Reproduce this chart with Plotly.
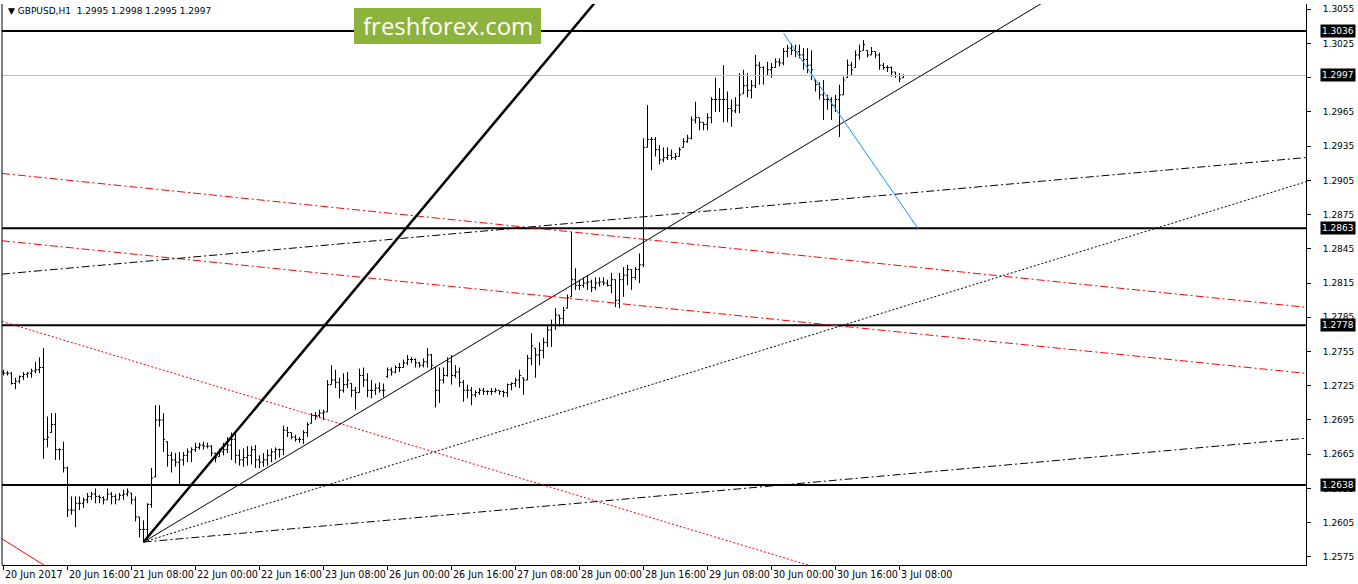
import plotly.graph_objects as go

# ---------------- data (GBPUSD H1, bar index 0 = 20 Jun 2017 00:00) ----------------
opens = [1.2737,1.2736,1.2736,1.2727,1.2729,1.2733,1.2735,1.2736,1.2738,1.2739,
         1.2741,1.2678,1.2684,1.2691,1.2669,1.2669,1.2653,1.2616,1.2616,1.2622,
         1.2622,1.2625,1.2628,1.2630,1.2628,1.2627,1.2625,1.2630,1.2628,1.2625,
         1.2629,1.2630,1.2631,1.2625,1.2610,1.2599,1.2599,1.2621,1.2645,1.2695,
         1.2695,1.2676,1.2664,1.2660,1.2658,1.2660,1.2664,1.2667,1.2669,1.2671,
         1.2673,1.2672,1.2672,1.2666,1.2663,1.2667,1.2669,1.2673,1.2678,1.2664,
         1.2660,1.2662,1.2664,1.2669,1.2660,1.2658,1.2660,1.2664,1.2667,1.2669,
         1.2669,1.2686,1.2684,1.2680,1.2678,1.2678,1.2684,1.2692,1.2699,1.2699,
         1.2701,1.2702,1.2726,1.2730,1.2728,1.2721,1.2726,1.2727,1.2721,1.2719,
         1.2734,1.2730,1.2721,1.2721,1.2723,1.2721,1.2733,1.2739,1.2737,1.2741,
         1.2741,1.2745,1.2748,1.2748,1.2745,1.2743,1.2746,1.2752,1.2741,1.2721,
         1.2730,1.2734,1.2746,1.2734,1.2737,1.2728,1.2721,1.2721,1.2717,1.2719,
         1.2721,1.2720,1.2720,1.2720,1.2721,1.2720,1.2719,1.2726,1.2727,1.2730,
         1.2732,1.2730,1.2749,1.2758,1.2752,1.2756,1.2763,1.2774,1.2778,1.2787,
         1.2784,1.2793,1.2803,1.2818,1.2813,1.2813,1.2815,1.2816,1.2811,1.2815,
         1.2816,1.2815,1.2813,1.2818,1.2800,1.2818,1.2822,1.2827,1.2820,1.2827,
         1.2831,1.2934,1.2941,1.2941,1.2932,1.2923,1.2925,1.2927,1.2925,1.2926,
         1.2934,1.2939,1.2942,1.2958,1.2960,1.2956,1.2954,1.2960,1.2976,1.2976,
         1.2976,1.2976,1.2968,1.2966,1.2971,1.2981,1.2988,1.2984,1.2988,1.3006,
         1.3004,1.2997,1.3002,1.3004,1.3009,1.3008,1.3018,1.3021,1.3019,1.3018,
         1.3015,1.3011,1.3006,1.2993,1.2989,1.2980,1.2976,1.2976,1.2971,1.2976,
         1.2980,1.2995,1.3006,1.3004,1.3015,1.3019,1.3019,1.3015,1.3018,1.3015,
         1.3006,1.3004,1.3004,1.3000,1.2997,1.2995]
highs = [1.2739,1.2738,1.2737,1.2732,1.2734,1.2737,1.2737,1.2740,1.2746,1.2750,
         1.2758,1.2698,1.2701,1.2701,1.2670,1.2676,1.2654,1.2628,1.2628,1.2628,
         1.2627,1.2631,1.2632,1.2635,1.2629,1.2628,1.2635,1.2632,1.2630,1.2631,
         1.2634,1.2635,1.2631,1.2628,1.2610,1.2607,1.2622,1.2653,1.2708,1.2708,
         1.2701,1.2676,1.2667,1.2666,1.2667,1.2667,1.2670,1.2671,1.2675,1.2675,
         1.2676,1.2675,1.2673,1.2666,1.2670,1.2675,1.2680,1.2684,1.2684,1.2669,
         1.2670,1.2672,1.2672,1.2673,1.2664,1.2666,1.2669,1.2670,1.2671,1.2670,
         1.2690,1.2689,1.2684,1.2682,1.2680,1.2686,1.2693,1.2701,1.2702,1.2704,
         1.2704,1.2730,1.2743,1.2739,1.2732,1.2736,1.2737,1.2727,1.2724,1.2740,
         1.2741,1.2736,1.2730,1.2727,1.2728,1.2727,1.2741,1.2741,1.2743,1.2745,
         1.2748,1.2752,1.2750,1.2749,1.2746,1.2749,1.2758,1.2753,1.2741,1.2741,
         1.2741,1.2750,1.2752,1.2743,1.2741,1.2730,1.2726,1.2724,1.2721,1.2723,
         1.2723,1.2721,1.2723,1.2723,1.2721,1.2721,1.2727,1.2728,1.2732,1.2739,
         1.2732,1.2752,1.2771,1.2758,1.2763,1.2767,1.2778,1.2783,1.2793,1.2787,
         1.2794,1.2805,1.2860,1.2828,1.2818,1.2820,1.2822,1.2818,1.2820,1.2820,
         1.2820,1.2818,1.2824,1.2818,1.2824,1.2829,1.2831,1.2827,1.2829,1.2841,
         1.2942,1.2971,1.2943,1.2943,1.2936,1.2934,1.2934,1.2932,1.2929,1.2934,
         1.2942,1.2945,1.2961,1.2974,1.2960,1.2956,1.2964,1.2978,1.2995,1.2986,
         1.3006,1.2983,1.2976,1.2978,1.2999,1.3002,1.2999,1.2993,1.3015,1.3009,
         1.3005,1.3009,1.3008,1.3012,1.3012,1.3021,1.3024,1.3025,1.3024,1.3024,
         1.3021,1.3021,1.3019,1.2993,1.2991,1.2993,1.2980,1.2978,1.2980,1.2989,
         1.2996,1.3011,1.3009,1.3019,1.3024,1.3028,1.3019,1.3022,1.3018,1.3017,
         1.3008,1.3006,1.3005,1.3000,1.2999,1.2998]
lows = [1.2734,1.2734,1.2726,1.2722,1.2727,1.2730,1.2732,1.2732,1.2736,1.2736,
        1.2661,1.2671,1.2684,1.2660,1.2660,1.2649,1.2610,1.2612,1.2601,1.2616,
        1.2618,1.2622,1.2625,1.2622,1.2622,1.2621,1.2625,1.2621,1.2621,1.2625,
        1.2625,1.2628,1.2621,1.2606,1.2592,1.2588,1.2592,1.2618,1.2645,1.2689,
        1.2667,1.2654,1.2649,1.2654,1.2638,1.2655,1.2658,1.2658,1.2667,1.2669,
        1.2669,1.2670,1.2663,1.2658,1.2663,1.2664,1.2666,1.2660,1.2657,1.2655,
        1.2654,1.2655,1.2656,1.2653,1.2653,1.2654,1.2655,1.2658,1.2660,1.2662,
        1.2664,1.2680,1.2678,1.2676,1.2675,1.2674,1.2680,1.2692,1.2695,1.2697,
        1.2695,1.2702,1.2726,1.2723,1.2714,1.2719,1.2723,1.2715,1.2704,1.2719,
        1.2724,1.2715,1.2714,1.2717,1.2719,1.2715,1.2732,1.2734,1.2736,1.2737,
        1.2741,1.2743,1.2745,1.2741,1.2741,1.2741,1.2741,1.2739,1.2706,1.2710,
        1.2727,1.2733,1.2726,1.2732,1.2724,1.2711,1.2714,1.2708,1.2715,1.2717,
        1.2717,1.2717,1.2717,1.2719,1.2717,1.2715,1.2715,1.2721,1.2724,1.2723,
        1.2717,1.2730,1.2743,1.2732,1.2743,1.2749,1.2759,1.2759,1.2774,1.2777,
        1.2778,1.2793,1.2803,1.2809,1.2809,1.2811,1.2809,1.2807,1.2809,1.2812,
        1.2813,1.2812,1.2806,1.2794,1.2793,1.2803,1.2813,1.2809,1.2818,1.2815,
        1.2829,1.2934,1.2914,1.2926,1.2919,1.2921,1.2923,1.2923,1.2923,1.2926,
        1.2934,1.2938,1.2941,1.2955,1.2949,1.2949,1.2949,1.2955,1.2965,1.2965,
        1.2956,1.2956,1.2952,1.2964,1.2964,1.2981,1.2978,1.2977,1.2986,1.2989,
        1.2989,1.2997,1.2995,1.3004,1.3005,1.3006,1.3013,1.3015,1.3013,1.3012,
        1.3002,1.2999,1.2993,1.2983,1.2976,1.2958,1.2967,1.2958,1.2965,1.2943,
        1.2980,1.2995,1.2997,1.3004,1.3011,1.3019,1.3013,1.3015,1.3012,1.3002,
        1.3002,1.3000,1.2996,1.2995,1.2991,1.2995]
closes = [1.2736,1.2736,1.2727,1.2729,1.2733,1.2735,1.2736,1.2738,1.2739,1.2741,
          1.2678,1.2680,1.2691,1.2669,1.2669,1.2653,1.2616,1.2616,1.2622,1.2622,
          1.2625,1.2628,1.2630,1.2628,1.2627,1.2625,1.2630,1.2628,1.2625,1.2629,
          1.2630,1.2632,1.2625,1.2610,1.2599,1.2599,1.2621,1.2644,1.2695,1.2695,
          1.2678,1.2664,1.2660,1.2658,1.2660,1.2664,1.2667,1.2669,1.2671,1.2673,
          1.2672,1.2672,1.2666,1.2662,1.2667,1.2669,1.2673,1.2678,1.2664,1.2660,
          1.2662,1.2664,1.2669,1.2660,1.2658,1.2660,1.2664,1.2667,1.2669,1.2669,
          1.2686,1.2684,1.2680,1.2678,1.2678,1.2684,1.2691,1.2699,1.2699,1.2701,
          1.2702,1.2726,1.2730,1.2728,1.2721,1.2726,1.2730,1.2721,1.2719,1.2734,
          1.2730,1.2721,1.2721,1.2723,1.2721,1.2721,1.2739,1.2737,1.2741,1.2741,
          1.2745,1.2748,1.2748,1.2745,1.2743,1.2746,1.2752,1.2743,1.2721,1.2730,
          1.2734,1.2746,1.2734,1.2737,1.2728,1.2721,1.2721,1.2717,1.2719,1.2721,
          1.2720,1.2720,1.2720,1.2721,1.2720,1.2719,1.2726,1.2727,1.2730,1.2734,
          1.2730,1.2749,1.2760,1.2752,1.2756,1.2763,1.2774,1.2778,1.2787,1.2784,
          1.2791,1.2802,1.2818,1.2813,1.2813,1.2815,1.2816,1.2811,1.2815,1.2816,
          1.2815,1.2813,1.2818,1.2800,1.2818,1.2822,1.2827,1.2820,1.2827,1.2831,
          1.2934,1.2941,1.2941,1.2932,1.2923,1.2925,1.2927,1.2925,1.2926,1.2932,
          1.2939,1.2942,1.2958,1.2960,1.2956,1.2954,1.2960,1.2976,1.2976,1.2976,
          1.2976,1.2968,1.2966,1.2971,1.2980,1.2988,1.2984,1.2988,1.3006,1.3004,
          1.2997,1.3002,1.3004,1.3009,1.3008,1.3018,1.3021,1.3019,1.3018,1.3015,
          1.3011,1.3006,1.3002,1.2989,1.2980,1.2976,1.2976,1.2971,1.2976,1.2980,
          1.2993,1.3006,1.3002,1.3015,1.3018,1.3024,1.3015,1.3018,1.3015,1.3006,
          1.3004,1.3004,1.3000,1.2997,1.2994,1.2997]

# time axis labels (bar index -> label)
tick_idx = [0, 16, 32, 48, 64, 80, 96, 112, 128, 144, 160, 176, 192, 208, 224]
tick_text = ["20 Jun 2017", "20 Jun 16:00", "21 Jun 08:00", "22 Jun 00:00", "22 Jun 16:00",
             "23 Jun 08:00", "26 Jun 00:00", "26 Jun 16:00", "27 Jun 08:00", "28 Jun 00:00",
             "28 Jun 16:00", "29 Jun 08:00", "30 Jun 00:00", "30 Jun 16:00", "3 Jul 08:00"]

# price scale labels
price_ticks = [1.2575, 1.2605, 1.2635, 1.2665, 1.2695, 1.2725, 1.2755, 1.2785, 1.2815,
               1.2845, 1.2875, 1.2905, 1.2935, 1.2965, 1.2995, 1.3025, 1.3055]

# horizontal levels
levels = [1.3036, 1.2863, 1.2778, 1.2638]
bid = 1.2997

# trend line anchors: (bar index, price)
thick_line = [(35, 1.2588), (140, 1.3028)]
thin_line = [(35, 1.2588), (200, 1.2935)]
dotted_line = [(35, 1.2588), (300, 1.2876)]
dashdot_low = [(35, 1.2588), (300, 1.2671)]
dashdot_high = [(0, 1.2823), (300, 1.2917)]
red_line1 = [(0, 1.2911), (300, 1.2803)]
red_line2 = [(0, 1.2852), (300, 1.2745)]
red_dotted = [(0, 1.2781), (200, 1.2569)]
red_short = [(0, 1.2590), (10, 1.2568)]
blue_line = [(195, 1.3034), (228.6, 1.2863)]

title_text = "\u25BC GBPUSD,H1  1.2995 1.2998 1.2995 1.2997"

# ---------------- layout geometry ----------------
W, H = 1358, 584
ML, MR, MT, MB = 2, 52, 4, 19
PW, PH = W - ML - MR, H - MT - MB
X0, X1 = -0.375, -0.375 + PW / 4.0
Y1 = 1.3036 + 27 / 11407.0
Y0 = Y1 - PH / 11407.0

def px(x):
    return (x - ML) / PW

def py(y):
    return 1 - (y - MT) / PH

FONT = "DejaVu Sans"

fig = go.Figure()

def ray(pts, left=False, right=True):
    (xa, ya), (xb, yb) = pts
    k = (yb - ya) / (xb - xa)
    xs = X0 if left else xa
    xe = X1 if right else xb
    return [xs, xe], [ya + k * (xs - xa), ya + k * (xe - xa)]

def add_line(pts, color, width, dash, left=False, right=True):
    xs, ys = ray(pts, left, right)
    fig.add_trace(go.Scatter(x=xs, y=ys, mode="lines", hoverinfo="skip",
                             line=dict(color=color, width=width, dash=dash),
                             showlegend=False))

# horizontal levels
for lv in levels:
    fig.add_trace(go.Scatter(x=[X0, X1], y=[lv, lv], mode="lines", hoverinfo="skip",
                             line=dict(color="black", width=2), showlegend=False))
fig.add_trace(go.Scatter(x=[X0, X1], y=[bid, bid], mode="lines", hoverinfo="skip",
                         line=dict(color="#c0c0c0", width=1), showlegend=False))

add_line(red_line1, "red", 1, "8px,3px,2px,3px", left=True)
add_line(red_line2, "red", 1, "8px,3px,2px,3px", left=True)
add_line(red_dotted, "red", 1, "2px,2px", left=True)
add_line(red_short, "red", 1, "solid", left=True)
add_line(dashdot_high, "black", 1, "8px,3px,2px,3px", left=True)
add_line(dashdot_low, "black", 1, "8px,3px,2px,3px")
add_line(dotted_line, "black", 1, "2px,2px")
add_line(thin_line, "black", 1, "solid")
add_line(thick_line, "black", 2.5, "solid")
add_line(blue_line, "#1e90ff", 1, "solid", right=False)

fig.add_trace(go.Ohlc(x=list(range(len(closes))), open=opens, high=highs, low=lows, close=closes,
                      increasing=dict(line=dict(color="black", width=1)),
                      decreasing=dict(line=dict(color="black", width=1)),
                      tickwidth=0.4, hoverinfo="skip", showlegend=False))

annotations = []
for i, t in zip(tick_idx, tick_text):
    annotations.append(dict(x=i, xref="x", y=0, yref="paper", yanchor="top", xanchor="left",
                            yshift=-2, xshift=-1, text=t, showarrow=False,
                            font=dict(family=FONT, size=9.6, color="black")))
for lv in levels + [bid]:
    annotations.append(dict(x=1, xref="paper", y=lv, yref="y", xanchor="left", yanchor="middle",
                            xshift=14, text=f"{lv:.4f}", showarrow=False, bgcolor="black",
                            borderpad=1, font=dict(family=FONT, size=9, color="white")))
annotations.append(dict(x=px(6), xref="paper", y=py(11), yref="paper", xanchor="left",
                        yanchor="middle", text=title_text, showarrow=False,
                        font=dict(family=FONT, size=9, color="black")))
annotations.append(dict(x=px(447.5), xref="paper", y=py(26), yref="paper", xanchor="center",
                        yanchor="middle", text="freshforex.com", showarrow=False,
                        font=dict(family="Open Sans", size=24, color="white")))

shapes = [
    dict(type="rect", xref="paper", yref="paper", x0=px(354), x1=px(541), y0=py(44), y1=py(8),
         fillcolor="#8cb43c", line=dict(width=0), layer="above"),
    dict(type="line", xref="paper", yref="paper", x0=0, x1=0, y0=0, y1=1,
         line=dict(color="black", width=1)),
]

fig.update_layout(
    width=W, height=H, margin=dict(l=ML, r=MR, t=MT, b=MB, autoexpand=False),
    paper_bgcolor="white", plot_bgcolor="white", showlegend=False,
    annotations=annotations, shapes=shapes,
    xaxis=dict(range=[X0, X1], showgrid=False, zeroline=False, rangeslider=dict(visible=False),
               tickmode="array", tickvals=tick_idx, ticks="outside", ticklen=4,
               tickcolor="black", showticklabels=False, showline=True, linecolor="black",
               linewidth=1, fixedrange=True),
    yaxis=dict(range=[Y0, Y1], side="right", showgrid=False, zeroline=False,
               tickmode="array", tickvals=price_ticks, ticktext=[f"{v:.4f}" for v in price_ticks],
               ticks="outside", ticklen=4, tickcolor="black", showline=True, linecolor="black",
               linewidth=1, ticklabelstandoff=10,
               tickfont=dict(family=FONT, size=9, color="black"), fixedrange=True),
)

fig.write_html("out.html", config={"displayModeBar": False},
               post_script="document.body.style.margin='0';document.body.style.padding='0';"
                           "document.body.style.overflow='hidden';")
